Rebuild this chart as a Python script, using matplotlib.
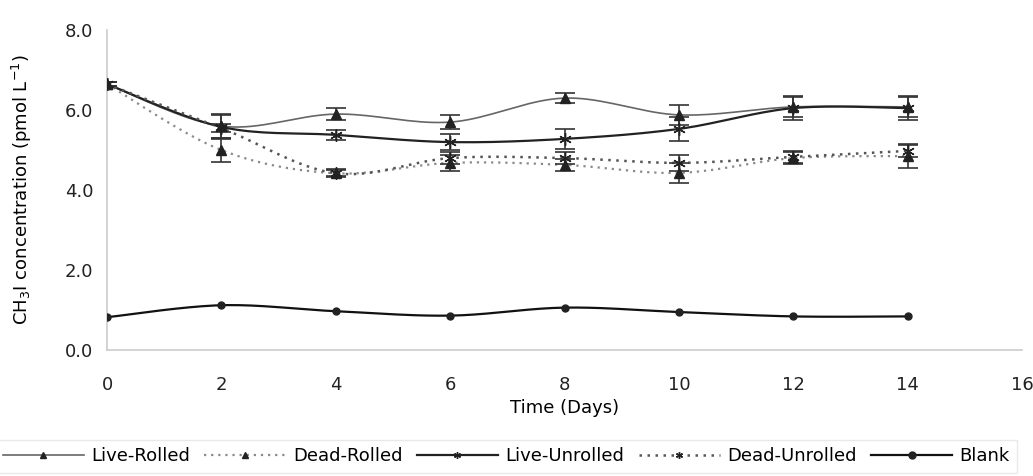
import matplotlib.pyplot as plt
import numpy as np

plt.rcParams['font.family'] = ['DejaVu Sans']

# CH3I concentration over time (pmol per litre)
days = [0, 2, 4, 6, 8, 10, 12, 14]

live_rolled = [6.65, 5.6, 5.9, 5.7, 6.3, 5.88, 6.08, 6.08]
live_rolled_err = [0.05, 0.3, 0.15, 0.18, 0.12, 0.25, 0.25, 0.25]

dead_rolled = [6.65, 5.0, 4.42, 4.68, 4.63, 4.43, 4.8, 4.85]
dead_rolled_err = [0.05, 0.3, 0.08, 0.2, 0.15, 0.25, 0.15, 0.3]

live_unrolled = [6.65, 5.58, 5.38, 5.2, 5.28, 5.53, 6.05, 6.05]
live_unrolled_err = [0.05, 0.3, 0.12, 0.2, 0.25, 0.3, 0.3, 0.3]

dead_unrolled = [6.65, 5.55, 4.42, 4.8, 4.8, 4.68, 4.83, 4.98]
dead_unrolled_err = [0.05, 0.1, 0.1, 0.15, 0.15, 0.2, 0.15, 0.15]

blank = [0.82, 1.12, 0.97, 0.86, 1.06, 0.95, 0.84, 0.84]


def smooth(x, y, n=20):
    # Catmull-Rom path through the points, like a spreadsheet "smoothed line"
    x = np.asarray(x, float)
    y = np.asarray(y, float)
    px = np.concatenate([[x[0]], x, [x[-1]]])
    py = np.concatenate([[y[0]], y, [y[-1]]])
    xs, ys = [], []
    t = np.linspace(0, 1, n)
    for i in range(1, len(px) - 2):
        for p, out in ((px, xs), (py, ys)):
            p0, p1, p2, p3 = p[i - 1], p[i], p[i + 1], p[i + 2]
            out.extend(0.5 * ((2 * p1) + (-p0 + p2) * t
                              + (2 * p0 - 5 * p1 + 4 * p2 - p3) * t ** 2
                              + (-p0 + 3 * p1 - 3 * p2 + p3) * t ** 3))
    return xs, ys


asterisk = (6, 2, 0)
dotted = (0, (1, 2.2))

series = [
    ('Live-Rolled', live_rolled, live_rolled_err, '#666666', '-', '^', 1.2),
    ('Dead-Rolled', dead_rolled, dead_rolled_err, '#8a8a8a', dotted, '^', 1.6),
    ('Live-Unrolled', live_unrolled, live_unrolled_err, '#222222', '-', asterisk, 1.6),
    ('Dead-Unrolled', dead_unrolled, dead_unrolled_err, '#555555', dotted, asterisk, 1.8),
    ('Blank', blank, None, '#111111', '-', 'o', 1.6),
]

fig = plt.figure(figsize=(10.33, 4.76), dpi=100)
ax = fig.add_axes([0.1036, 0.2647, 0.886, 0.672])

handles = []
for name, vals, err, color, ls, marker, lw in series:
    sx, sy = smooth(days, vals)
    ax.plot(sx, sy, color=color, linestyle=ls, linewidth=lw, zorder=2)
    if err is not None:
        ax.errorbar(days, vals, yerr=err, fmt='none', ecolor='#333333',
                    elinewidth=1.2, capsize=7, capthick=1.2, zorder=3)
    ms = 5 if marker == 'o' else (7 if marker == '^' else 9)
    ax.plot(days, vals, linestyle='none', marker=marker, markersize=ms,
            color='#222222', markeredgecolor='#222222', zorder=4)
    h, = ax.plot([], [], color=color, linestyle=ls, linewidth=lw,
                 marker=marker, markersize=4 if marker == '^' else 5,
                 markeredgecolor='#222222', markerfacecolor='#222222')
    handles.append(h)

ax.set_xlim(0, 16)
ax.set_ylim(0, 8)
ax.set_xticks(range(0, 17, 2))
ax.set_yticks([0, 2, 4, 6, 8])
ax.set_yticklabels(['0.0', '2.0', '4.0', '6.0', '8.0'])
ax.tick_params(length=0, labelsize=13, colors='#222222', pad=10)
ax.tick_params(axis='x', pad=19)

for side in ['top', 'right']:
    ax.spines[side].set_visible(False)
for side in ['left', 'bottom']:
    ax.spines[side].set_color('#cccccc')
    ax.spines[side].set_linewidth(1.2)

ax.set_xlabel('Time (Days)', fontsize=13, labelpad=3)
ax.set_ylabel('CH$_3$I concentration (pmol L$^{-1}$)', fontsize=13, labelpad=22)

fig.legend(handles, [s[0] for s in series], loc='lower center',
           bbox_to_anchor=(0.49, -0.012), ncol=5, fontsize=13, frameon=True,
           fancybox=False, edgecolor='#e4e4e4', handlelength=4.5,
           handletextpad=0.4, columnspacing=0.8, borderpad=0.4)

plt.savefig('out.png', dpi=100)
